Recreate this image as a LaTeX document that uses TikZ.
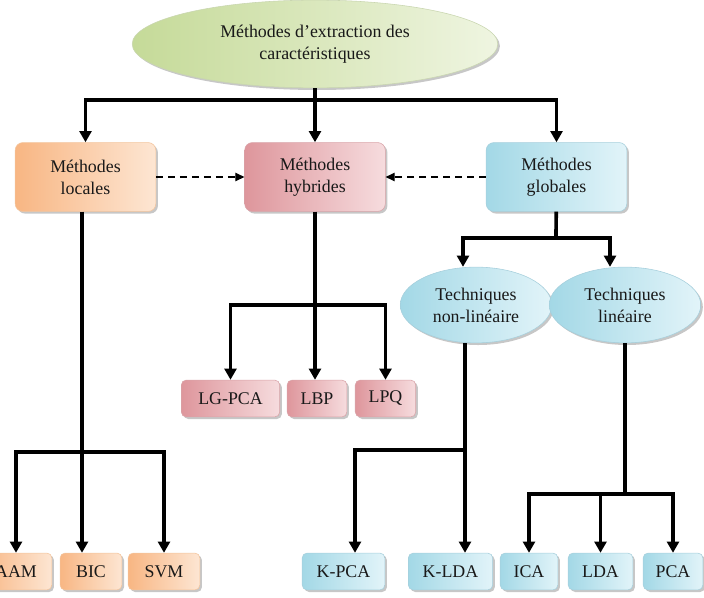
\documentclass[tikz,border=0pt]{standalone}
\usepackage{fontspec}
\setmainfont{Liberation Serif}
\usetikzlibrary{arrows.meta,shapes.geometric,shadows}
\definecolor{orangeD}{HTML}{F8B683}
\definecolor{orangeL}{HTML}{FDE6D3}
\definecolor{orangeB}{HTML}{F3C49C}
\definecolor{pinkD}{HTML}{DE969C}
\definecolor{pinkL}{HTML}{F6DCDE}
\definecolor{pinkB}{HTML}{D9A3A8}
\definecolor{blueD}{HTML}{A3D8E6}
\definecolor{blueL}{HTML}{E2F4F9}
\definecolor{blueB}{HTML}{A6CFDC}
\definecolor{greenD}{HTML}{C5DA98}
\definecolor{greenL}{HTML}{EFF5E1}
\definecolor{greenB}{HTML}{C9D6B0}
\tikzset{
	x=0.025cm, y=-0.025cm, % pixel-like units, y going down
	every node/.style={font=\fontsize{12.7}{15.6}\selectfont, align=center, text=black!90, inner sep=0pt},
	shadowed/.style={drop shadow={shadow xshift=1.5pt, shadow yshift=-1.5pt, fill=black, opacity=0.22}},
	methbox/.style={rectangle, rounded corners=5.5pt, minimum width=100pt, minimum height=49pt, shadowed},
	leaf/.style={rectangle, rounded corners=3.5pt, minimum height=26.2pt, shadowed},
	techell/.style={ellipse, minimum width=107.7pt, minimum height=53.9pt, draw=blueB, left color=blueD, right color=blueL, shadowed},
	orangefill/.style={draw=orangeB, left color=orangeD, right color=orangeL},
	pinkfill/.style={draw=pinkB, left color=pinkD, right color=pinkL},
	bluefill/.style={draw=blueB, left color=blueD, right color=blueL},
	stem/.style={line width=2.6pt, black},
	tree/.style={stem, -{Triangle[length=8pt, width=8.5pt]}},
	dasharrow/.style={line width=1pt, black, dash pattern=on 5pt off 3.5pt, -{Triangle[length=6.5pt, width=6pt]}},
}
\begin{document}
\begin{tikzpicture}
	\useasboundingbox (0,0) rectangle (704,598);

	% top level
	\node[ellipse, minimum width=260pt, minimum height=62.4pt, draw=greenB, left color=greenD, right color=greenL, shadowed] (root) at (315,44) {Méthodes d’extraction des\\caractéristiques};

	\node[methbox, orangefill] (loc) at (85.5,177) {Méthodes\\locales};
	\node[methbox, pinkfill] (hyb) at (315,177) {Méthodes\\hybrides};
	\node[methbox, bluefill] (glob) at (556.5,177) {Méthodes\\globales};

	\node[techell] (nl) at (476,305) {Techniques\\non-linéaire};
	\node[techell] (lin) at (625,305) {Techniques\\linéaire};

	% leaves
	\node[leaf, pinkfill, minimum width=70pt] (lgpca) at (230.5,398.5) {LG-PCA};
	\node[leaf, pinkfill, minimum width=42.5pt] (lbp) at (317,398.5) {LBP};
	\node[leaf, pinkfill, minimum width=43pt] (lpq) at (385.5,398.5) {LPQ};

	\node[leaf, orangefill, minimum width=51pt] (aam) at (16,571.5) {AAM};
	\node[leaf, orangefill, minimum width=44pt] (bic) at (91,571.5) {BIC};
	\node[leaf, orangefill, minimum width=51pt] (svm) at (164,571.5) {SVM};

	\node[leaf, bluefill, minimum width=58.8pt] (kpca) at (343.5,571.5) {K-PCA};
	\node[leaf, bluefill, minimum width=60pt] (klda) at (450.5,571.5) {K-LDA};
	\node[leaf, bluefill, minimum width=41pt] (ica) at (529,571.5) {ICA};
	\node[leaf, bluefill, minimum width=46pt] (lda) at (600.5,571.5) {LDA};
	\node[leaf, bluefill, minimum width=42.5pt] (pca) at (673,571.5) {PCA};

	% branching points
	\coordinate (rootj) at (315,100);
	\coordinate (locj) at (82,452);
	\coordinate (hybj) at (315,305);
	\coordinate (globj) at (556,238);
	\coordinate (globl) at (463,238);
	\coordinate (globr) at (610,238);
	\coordinate (nlj) at (465,450);
	\coordinate (nlk) at (355,450);
	\coordinate (linj) at (625,494);

	% connectors
	\draw[tree] (root) -- (rootj) -| (loc);
	\draw[tree] (rootj) -- (hyb);
	\draw[tree] (rootj) -| (glob);

	\draw[dasharrow] (loc) -- (hyb);
	\draw[dasharrow] (glob) -- (hyb);

	\draw[stem] (loc.south -| locj) -- (locj);
	\draw[tree] (locj) -| (aam);
	\draw[tree] (locj) -- (locj |- bic.north);
	\draw[tree] (locj) -| (svm);

	\draw[stem] (hyb) -- (hybj);
	\draw[tree] (hybj) -| (lgpca);
	\draw[tree] (hybj) -- (hybj |- lbp.north);
	\draw[tree] (hybj) -| (lpq);

	\draw[stem] (glob) -- (globj);
	\draw[tree] (globj) -- (globl) -- (globl |- nl.north);
	\draw[tree] (globj) -- (globr) -- (globr |- lin.north);

	\draw[stem] (nl.south -| nlj) -- (nlj);
	\draw[tree] (nlj) -- (nlk) -- (kpca.north -| nlk);
	\draw[tree] (nlj) -- (klda.north -| nlj);

	\draw[stem] (lin) -- (linj);
	\draw[tree] (linj) -| (ica);
	\draw[tree] (linj) -- (lda.north |- linj) -- (lda);
	\draw[tree] (linj) -| (pca);
\end{tikzpicture}
\end{document}
